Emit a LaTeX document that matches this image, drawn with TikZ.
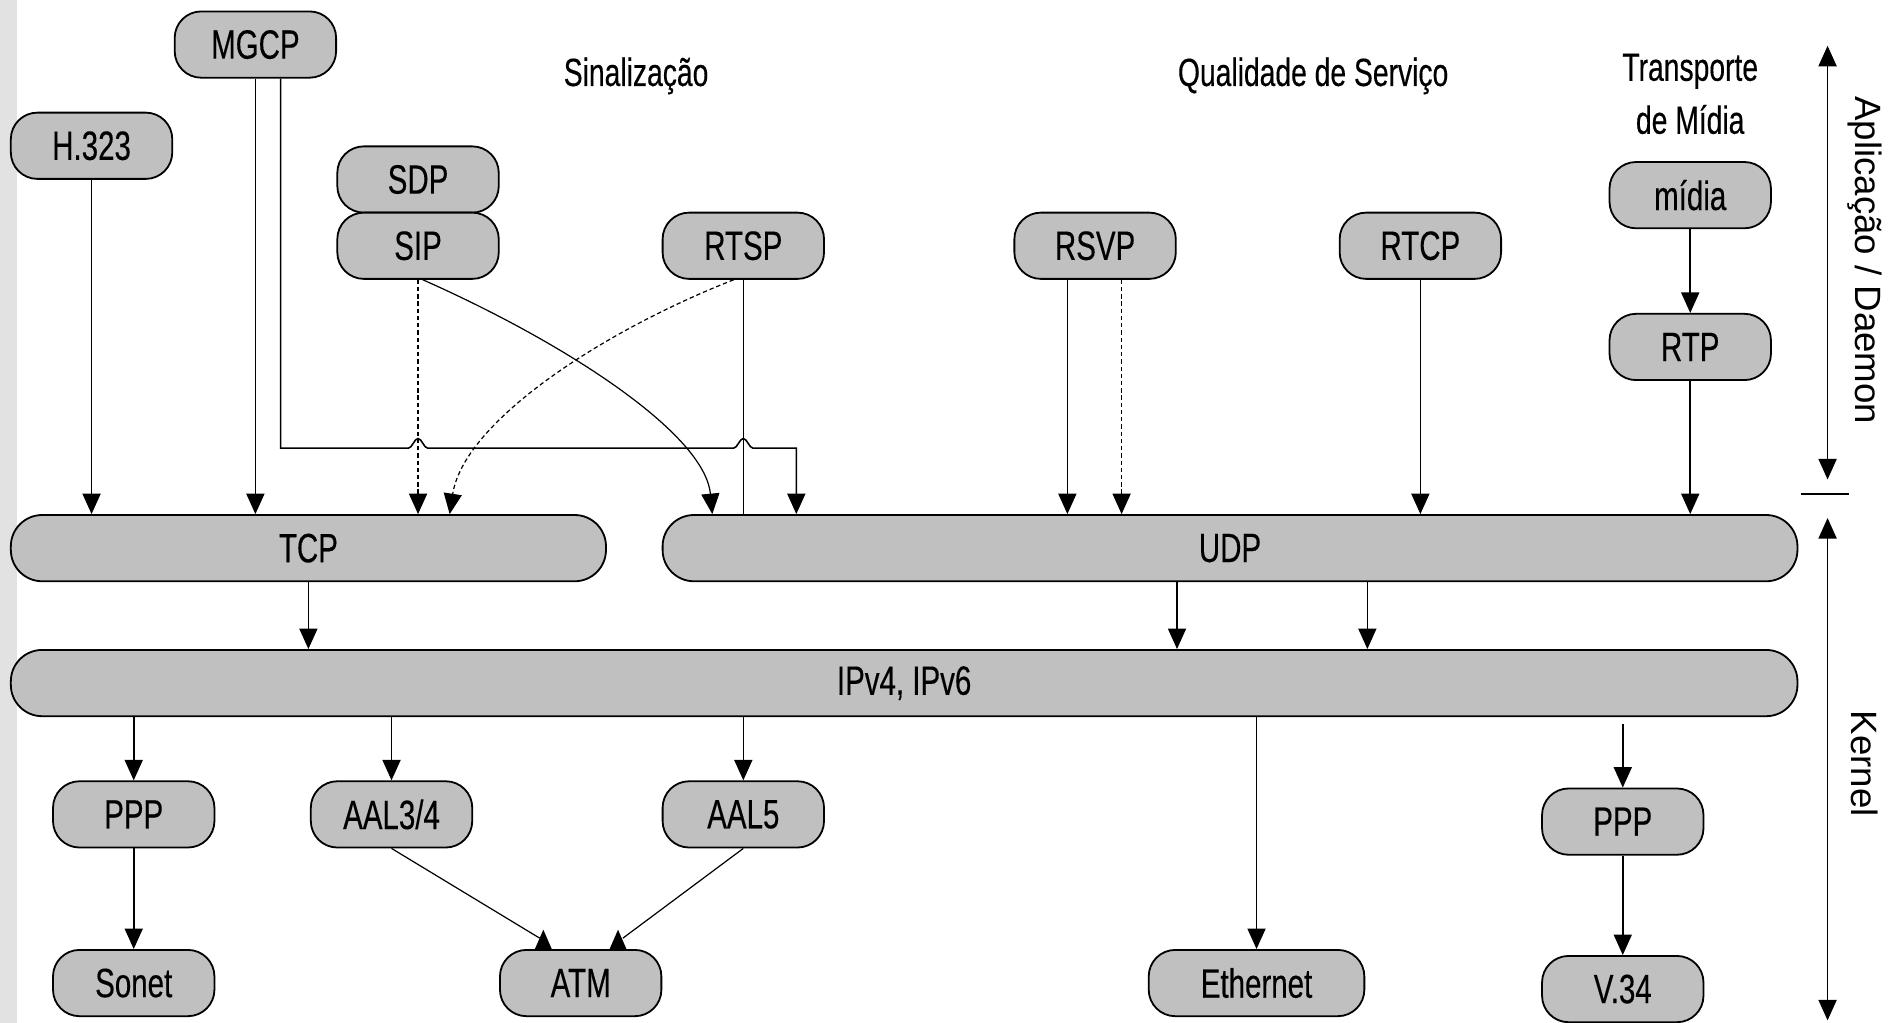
\documentclass[tikz,border=0pt]{standalone}
\usepackage{fontspec}
\setmainfont{Liberation Sans}[FakeStretch=0.72,FakeBold=0.3]
\newfontfamily\sidefont{Liberation Sans}
\usetikzlibrary{arrows.meta,calc}
\definecolor{boxgray}{RGB}{192,192,192}
\definecolor{stripe}{RGB}{226,226,226}
\begin{document}
\begin{tikzpicture}[x=0.5pt,y=-0.5pt,
  proto/.style={draw=black, line width=0.75pt, fill=boxgray, rounded corners=11pt,
    minimum width=67pt, minimum height=27.5pt, inner sep=0pt,
    font=\fontsize{17}{18}\selectfont},
  layer/.style={proto, rounded corners=13pt},
  lbl/.style={font=\fontsize{16.3}{22}\selectfont, inner sep=0pt},
  sidelbl/.style={font=\sidefont\fontsize{15.2}{18}\selectfont, rotate=-90, inner sep=0pt},
  tip/.tip={Triangle[width=7.5pt,length=8.5pt]},
  plain/.style={line width=0.65pt},
  link/.style={plain, -tip},
  dsh/.style={dash pattern=on 1.8pt off 1.2pt},
  fine/.style={line width=0.5pt}
]
\useasboundingbox (0,0) rectangle (1568,849);
\fill[white] (0,0) rectangle (1568,849);
\fill[stripe] (0,0) rectangle (14,849);

% group headings
\node[lbl] (sinal) at (528,63) {Sinalização};
\node[lbl] (qos) at (1090,63) {Qualidade de Serviço};
\node[lbl, align=center] (transp) at (1403,78) {Transporte\\de Mídia};

% application level protocols
\node[proto] (mgcp) at (212,37) {MGCP};
\node[proto] (h323) at (76,121) {H.323};
\node[proto] (sdp) at (347,149) {SDP};
\node[proto] (sip) at (347,204) {SIP};
\node[proto] (rtsp) at (617,204) {RTSP};
\node[proto] (rsvp) at (909,204) {RSVP};
\node[proto] (rtcp) at (1179,204) {RTCP};
\node[proto] (midia) at (1403,162) {mídia};
\node[proto] (rtp) at (1403,288) {RTP};

% transport and network layers
\node[layer, minimum width=247pt] (tcp) at (256,455) {TCP};
\node[layer, minimum width=471pt] (udp) at (1021,455) {UDP};
\node[layer, minimum width=741.5pt] (ip) at (750.5,567) {IPv4, IPv6};

% link layer
\node[proto] (pppl) at (111,676) {PPP};
\node[proto] (aal34) at (325,676) {AAL3/4};
\node[proto] (aal5) at (617,676) {AAL5};
\node[proto] (pppr) at (1347,682) {PPP};
\node[proto] (sonet) at (111,816) {Sonet};
\node[proto] (atm) at (482,816) {ATM};
\node[proto, minimum width=89.5pt] (eth) at (1043,816) {Ethernet};
\node[proto] (v34) at (1347,821) {V.34};

% into TCP
\draw[link] (h323.south) -- (h323.south |- tcp.north);
\draw[link] (mgcp.south) -- (mgcp.south |- tcp.north);
\draw[link,dsh] (sip.south) -- (sip.south |- tcp.north);
\draw[link,fine,dsh] ($(rtsp.south)+(-8,0)$) .. controls (500,275) and (385,350) .. ($(tcp.north west)+(365,0)$);

% MGCP over to UDP, hopping over the crossing lines
\coordinate (mg2) at ($(mgcp.south)+(21,0)$);
\coordinate (hopy) at (0,372);
\coordinate (mgend) at (661,372);
\draw[link] (mg2) -- (mg2 |- hopy)
  -- ($(sip.south |- hopy)+(-8,0)$) .. controls +(3,0) and +(-3,0) .. ++(8,-8)
  .. controls +(3,0) and +(-3,0) .. ++(8,8)
  -- ($(rtsp.south |- hopy)+(-8,0)$) .. controls +(3,0) and +(-3,0) .. ++(8,-8)
  .. controls +(3,0) and +(-3,0) .. ++(8,8)
  -- (mgend) -- (mgend |- udp.north);

% into UDP
\draw[link,fine] ($(sip.south)+(4,0)$) .. controls (470,285) and (585,360) .. ($(udp.north west)+(42,0)$);
\draw[plain] (rtsp.south) -- (rtsp.south |- udp.north);
\coordinate (rs1) at ($(rsvp.south)+(-23,0)$);
\coordinate (rs2) at ($(rsvp.south)+(22,0)$);
\draw[link] (rs1) -- (rs1 |- udp.north);
\draw[link,dsh] (rs2) -- (rs2 |- udp.north);
\draw[link] (rtcp.south) -- (rtcp.south |- udp.north);
\draw[link] (midia) -- (rtp);
\draw[link] (rtp.south) -- (rtp.south |- udp.north);

% into IP
\draw[link] (tcp.south) -- (tcp.south |- ip.north);
\coordinate (u1) at ($(udp.south)+(-44,0)$);
\coordinate (u2) at ($(udp.south)+(114,0)$);
\draw[link] (u1) -- (u1 |- ip.north);
\draw[link] (u2) -- (u2 |- ip.north);

% below IP
\draw[link] (pppl.north |- ip.south) -- (pppl.north);
\draw[link] (aal34.north |- ip.south) -- (aal34.north);
\draw[link] (aal5.north |- ip.south) -- (aal5.north);
\draw[link] (eth.north |- ip.south) -- (eth.north);
\coordinate (pstart) at ($(ip.south -| pppr.north)+(0,6)$);
\draw[link] (pstart) -- (pppr.north);
\draw[link] (pppl) -- (sonet);
\draw[link] (pppr) -- (v34);

% AAL into ATM
\coordinate (atmL) at ($(atm.north)+(-31,0)$);
\coordinate (atmR) at ($(atm.north)+(31,0)$);
\draw[fine] (aal34.south) -- ($(atmL)+(-3,-9)$);
\draw[fine] (aal5.south) -- ($(atmR)+(4,-9)$);
\fill (atmL) ++(-7,0) -- ++(7,-16) -- ++(7,16) -- cycle;
\fill (atmR) ++(-7,0) -- ++(7,-16) -- ++(7,16) -- cycle;

% side scale
\coordinate (apT) at (1517,38);
\coordinate (apB) at (1517,398);
\coordinate (keT) at (1517,430);
\coordinate (keB) at (1517,847);
\draw[plain, tip-tip] (apT) -- (apB);
\draw[plain] (1495,410) -- (1535,410);
\draw[plain, tip-tip] (keT) -- (keB);
\node[sidelbl] (aplab) at (1548,216) {Aplicação / Daemon};
\node[sidelbl] (kerlab) at (1548,634) {Kernel};
\end{tikzpicture}
\end{document}
